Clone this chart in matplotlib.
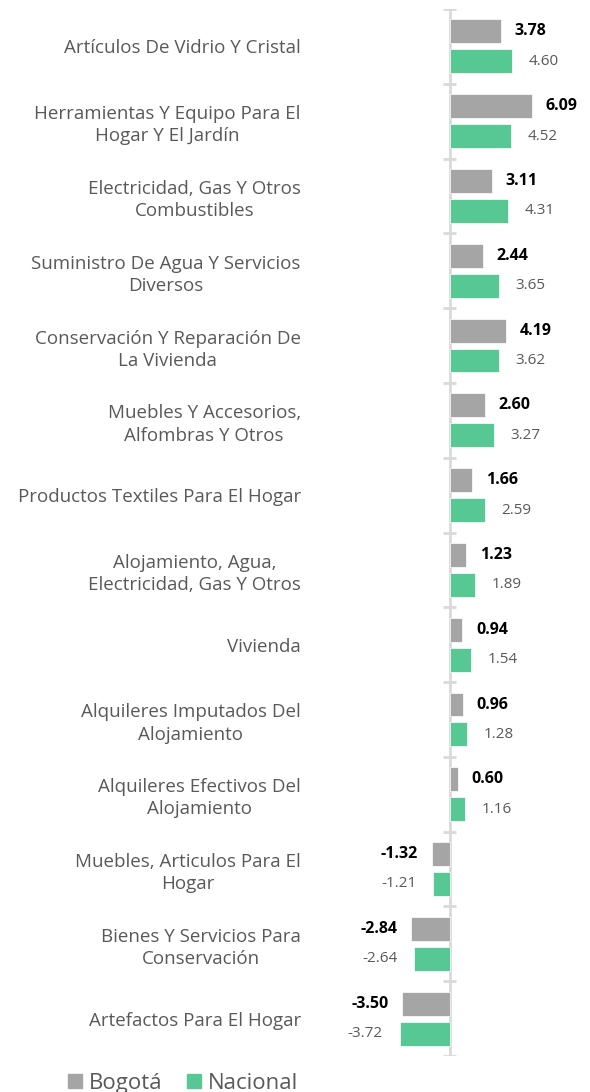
import numpy as np
import matplotlib.pyplot as plt
from matplotlib.patches import Patch

# data
categories = [
    "Artículos De Vidrio Y Cristal",
    "Herramientas Y Equipo Para El\nHogar Y El Jardín",
    "Electricidad, Gas Y Otros\nCombustibles",
    "Suministro De Agua Y Servicios\nDiversos",
    "Conservación Y Reparación De\nLa Vivienda",
    "Muebles Y Accesorios,\nAlfombras Y Otros",
    "Productos Textiles Para El Hogar",
    "Alojamiento, Agua,\nElectricidad, Gas Y Otros",
    "Vivienda",
    "Alquileres Imputados Del\nAlojamiento",
    "Alquileres Efectivos Del\nAlojamiento",
    "Muebles, Articulos Para El\nHogar",
    "Bienes Y Servicios Para\nConservación",
    "Artefactos Para El Hogar",
]
bogota = [3.78, 6.09, 3.11, 2.44, 4.19, 2.60, 1.66, 1.23, 0.94, 0.96, 0.60, -1.32, -2.84, -3.50]
nacional = [4.60, 4.52, 4.31, 3.65, 3.62, 3.27, 2.59, 1.89, 1.54, 1.28, 1.16, -1.21, -2.64, -3.72]
series_names = ["Bogotá", "Nacional"]

GRAY = "#a5a5a5"
GREEN = "#57c893"
TEXT = "#595959"
AXIS = "#d9d9d9"

plt.rcParams['font.family'] = ['Open Sans', 'DejaVu Sans']

fig = plt.figure(figsize=(5.9, 10.92), dpi=100)
ax = fig.add_axes([305 / 590, 1 - 1056 / 1092, 1 - 305 / 590, (1056 - 9) / 1092])

y = np.arange(len(categories))
h = 0.32
off = 0.2
ax.barh(y - off, bogota, height=h, color=GRAY, edgecolor="white", linewidth=0.5, zorder=2)
ax.barh(y + off, nacional, height=h, color=GREEN, edgecolor="white", linewidth=0.5, zorder=2)

for yi, v in zip(y, bogota):
    ax.annotate(f"{v:.2f}", (v, yi - off), xytext=(10 if v >= 0 else -10, 0),
                textcoords="offset points", va="center", ha="left" if v >= 0 else "right",
                fontsize=11.5, fontweight="bold", color="black")
for yi, v in zip(y, nacional):
    ax.annotate(f"{v:.2f}", (v, yi + off), xytext=(12 if v >= 0 else -12, 0),
                textcoords="offset points", va="center", ha="left" if v >= 0 else "right",
                fontsize=11, color=TEXT)

# vertical axis at zero with tick marks between categories
ax.axvline(0, color=AXIS, linewidth=2, zorder=1)
bounds = np.arange(len(categories) + 1) - 0.5
ax.hlines(bounds, -0.5, 0.5, color=AXIS, linewidth=2, zorder=1)

ax.set_xlim(-10.72, 10.39)
ax.set_ylim(len(categories) - 0.5, -0.5)
ax.set_yticks(y)
ax.set_yticklabels(categories, fontsize=13.5, color=TEXT, multialignment="center",
                   linespacing=1.3)
ax.tick_params(axis="y", length=0, pad=3)
ax.set_xticks([])
for s in ax.spines.values():
    s.set_visible(False)

handles = [Patch(color=GRAY), Patch(color=GREEN)]
fig.legend(handles, series_names, loc="lower center", bbox_to_anchor=(0.31, -0.02),
           ncol=2, frameon=False, fontsize=16, handlelength=0.65, handleheight=0.65,
           handletextpad=0.3, columnspacing=1.1, labelcolor=TEXT)

fig.savefig("out.png", dpi=100)
